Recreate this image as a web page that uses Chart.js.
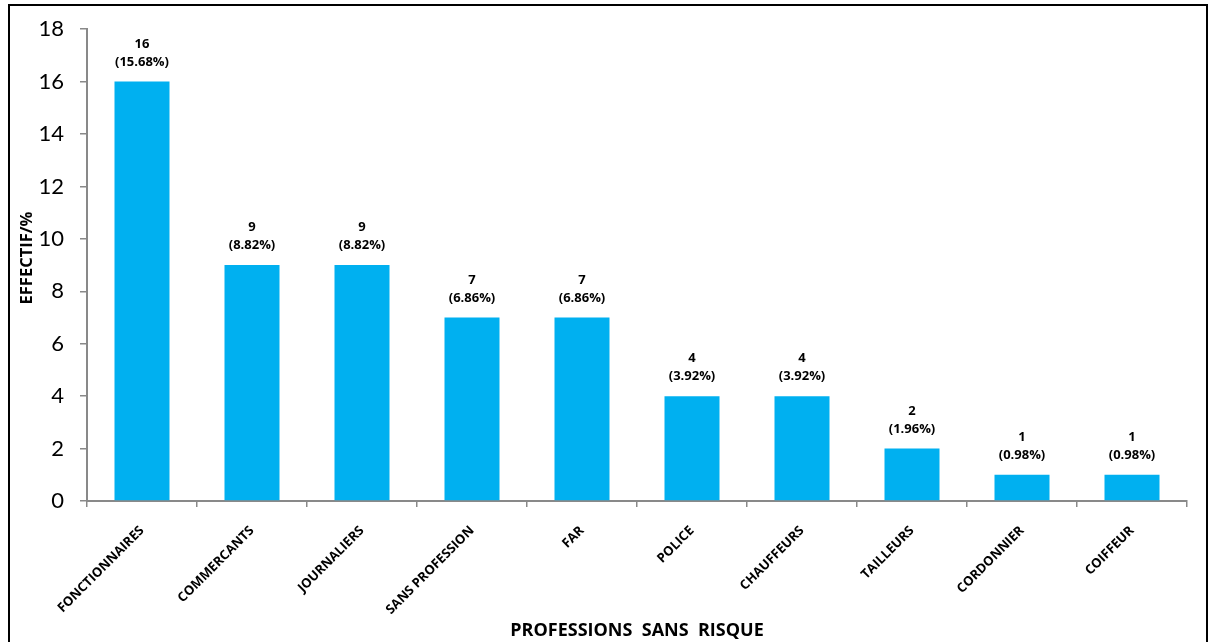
<!DOCTYPE html>
<html>
<head>
<meta charset="utf-8">
<script src="https://cdn.jsdelivr.net/npm/chart.js@4.4.0/dist/chart.umd.min.js"></script>
<style>
html,body{margin:0;padding:0;background:#fff;}
#wrap{position:relative;width:1211px;height:642px;}
canvas{display:block;}
</style>
</head>
<body>
<div id="wrap"><canvas id="c" width="1211" height="642"></canvas></div>
<script>
const categories = ["FONCTIONNAIRES","COMMERCANTS","JOURNALIERS","SANS PROFESSION","FAR","POLICE","CHAUFFEURS","TAILLEURS","CORDONNIER","COIFFEUR"];
const effectifs = [16, 9, 9, 7, 7, 4, 4, 2, 1, 1];
const percents = ["15.68", "8.82", "8.82", "6.86", "6.86", "3.92", "3.92", "1.96", "0.98", "0.98"];
const yTicks = [0, 2, 4, 6, 8, 10, 12, 14, 16, 18];

const axisColor = '#898989';

const frame = {
  id: 'frame',
  afterDraw(chart) {
    const ctx = chart.ctx;
    ctx.save();
    ctx.strokeStyle = '#000';
    ctx.lineWidth = 2;
    ctx.strokeRect(9, 5, 1198, 660);
    // y axis title
    ctx.fillStyle = '#000';
    ctx.font = 'bold 16.5px "Open Sans"';
    ctx.textAlign = 'center';
    ctx.textBaseline = 'middle';
    ctx.translate(27, 258);
    ctx.rotate(-Math.PI / 2);
    ctx.fillText('EFFECTIF/%', 0, 0);
    ctx.restore();
  }
};

const dataLabels = {
  id: 'dataLabels',
  afterDatasetsDraw(chart) {
    const ctx = chart.ctx;
    const meta = chart.getDatasetMeta(0);
    ctx.save();
    ctx.fillStyle = '#000';
    ctx.font = 'bold 13px "Open Sans"';
    ctx.textAlign = 'center';
    ctx.textBaseline = 'alphabetic';
    meta.data.forEach((bar, i) => {
      ctx.fillText(String(effectifs[i]), bar.x, bar.y - 34);
      ctx.fillText('(' + percents[i] + '%)', bar.x, bar.y - 16);
    });
    ctx.restore();
  }
};

new Chart(document.getElementById('c'), {
  type: 'bar',
  data: {
    labels: categories,
    datasets: [{
      data: effectifs,
      backgroundColor: '#00B0F0',
      borderWidth: 0,
      barPercentage: 0.5,
      categoryPercentage: 1.0
    }]
  },
  options: {
    responsive: false,
    animation: false,
    devicePixelRatio: 1,
    layout: { padding: { left: 0, right: 24, top: 28, bottom: 0 } },
    plugins: { legend: { display: false }, tooltip: { enabled: false } },
    scales: {
      x: {
        afterFit(s) { s.height = 141; },
        grid: { display: true, drawOnChartArea: false, offset: true, color: axisColor, lineWidth: 1.5, tickLength: 6 },
        border: { display: true, color: axisColor, width: 2 },
        ticks: {
          color: '#000',
          font: { family: 'Open Sans', size: 13, weight: 'bold' },
          minRotation: 45, maxRotation: 45, autoSkip: false, padding: 16
        },
        title: {
          display: true,
          text: 'PROFESSIONS  SANS  RISQUE',
          color: '#000',
          font: { family: 'Open Sans', size: 18, weight: 'bold' },
          padding: { top: 0, bottom: 0 }
        }
      },
      y: {
        min: 0, max: 18,
        afterFit(s) { s.width = 87; },
        afterBuildTicks(s) { s.ticks = yTicks.map(v => ({ value: v })); },
        grid: { display: true, drawOnChartArea: false, color: axisColor, lineWidth: 1.5, tickLength: 7 },
        border: { display: true, color: axisColor, width: 2 },
        ticks: {
          color: '#000',
          font: { family: 'Lato', size: 22 },
          padding: 16
        }
      }
    }
  },
  plugins: [dataLabels, frame]
});
</script>
</body>
</html>
